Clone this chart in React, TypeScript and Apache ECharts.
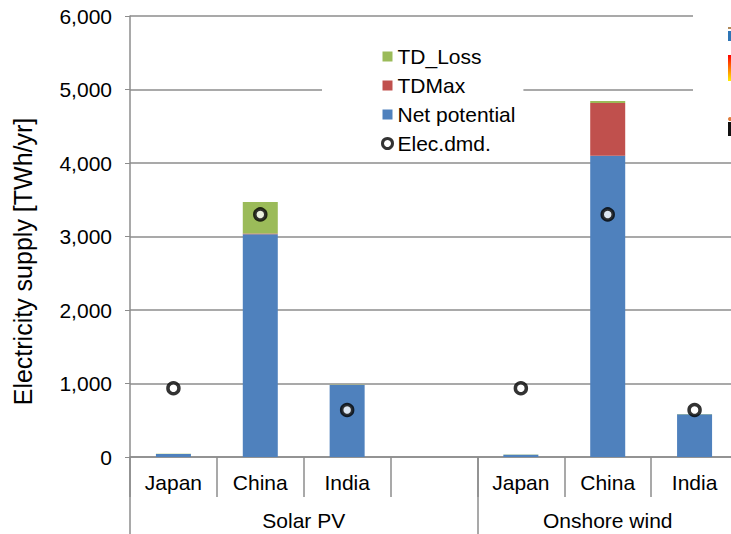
import React, { useEffect, useRef } from "react";
import * as echarts from "echarts";

const categories = ["Japan", "China", "India", "", "Japan", "China", "India"];
const netPotential = [40, 3030, 980, null, 30, 4100, 580];
const tdMax = [0, 10, 0, null, 0, 715, 0];
const tdLoss = [3, 430, 3, null, 3, 30, 5];
const elecDmd = [935, 3300, 640, null, 935, 3300, 640];
const yTicks = [0, 1000, 2000, 3000, 4000, 5000, 6000];
const groups = [
  { name: "Solar PV", center: 2 },
  { name: "Onshore wind", center: 5.5 },
];
const groupBounds = [0, 4, 7];

const FONT = "Liberation Sans, Arial, sans-serif";
const GRID_COLOR = "#8c8c8c";

export default function App() {
  const ref = useRef<HTMLDivElement>(null);

  useEffect(() => {
    document.body.style.margin = "0";
    const chart = echarts.init(ref.current!, undefined, { renderer: "svg" });
    chart.setOption({
      animation: false,
      textStyle: { fontFamily: FONT, color: "#000" },
      grid: { left: 130, top: 16, right: 22, bottom: 77 },
      legend: {
        orient: "vertical",
        left: 322,
        top: 38,
        padding: [8, 8, 5, 59],
        backgroundColor: "#fff",
        itemWidth: 10,
        itemHeight: 10,
        itemGap: 8,
        textStyle: { fontSize: 21, color: "#000", fontFamily: FONT },
        data: [
          { name: "TD_Loss", icon: "rect" },
          { name: "TDMax", icon: "rect" },
          { name: "Net potential", icon: "rect" },
          {
            name: "Elec.dmd.",
            icon: "circle",
            itemStyle: { color: "#fff", borderColor: "#000", borderWidth: 3 },
          },
        ],
      },
      xAxis: [
        {
          type: "category",
          data: categories,
          axisLine: { lineStyle: { color: GRID_COLOR, width: 1.5 } },
          axisTick: {
            show: true,
            interval: 0,
            length: 40,
            lineStyle: { color: GRID_COLOR, width: 1.5 },
          },
          axisLabel: {
            interval: 0,
            fontSize: 21,
            color: "#000",
            margin: 15,
            fontFamily: FONT,
          },
        },
        {
          type: "value",
          position: "bottom",
          min: 0,
          max: 7,
          axisLine: { show: false },
          splitLine: { show: false },
          axisTick: {
            show: true,
            length: 90,
            customValues: groupBounds,
            lineStyle: { color: GRID_COLOR, width: 1.5 },
          },
          axisLabel: {
            fontSize: 21,
            color: "#000",
            margin: 53,
            fontFamily: FONT,
            customValues: groups.map((g) => g.center),
            formatter: (v: number) => groups.find((g) => g.center === v)?.name ?? "",
          },
        },
      ],
      yAxis: {
        type: "value",
        min: 0,
        max: 6000,
        interval: 1000,
        name: "Electricity supply [TWh/yr]",
        nameLocation: "middle",
        nameGap: 95,
        nameTextStyle: {
          fontSize: 25,
          color: "#000",
          fontFamily: FONT,
          padding: [0, 50, 0, 0],
        },
        axisLine: { show: true, lineStyle: { color: GRID_COLOR, width: 1.5 } },
        axisTick: { show: true, length: 5, lineStyle: { color: GRID_COLOR } },
        splitLine: { lineStyle: { color: GRID_COLOR, width: 1.5 } },
        axisLabel: {
          fontSize: 21,
          color: "#000",
          margin: 18,
          fontFamily: FONT,
          customValues: yTicks,
          formatter: (v: number) => v.toLocaleString("en-US"),
        },
      },
      series: [
        {
          name: "Net potential",
          type: "bar",
          stack: "supply",
          barWidth: 35,
          data: netPotential,
          itemStyle: { color: "#4F81BD" },
        },
        {
          name: "TDMax",
          type: "bar",
          stack: "supply",
          barWidth: 35,
          data: tdMax,
          itemStyle: { color: "#C0504D" },
        },
        {
          name: "TD_Loss",
          type: "bar",
          stack: "supply",
          barWidth: 35,
          data: tdLoss,
          itemStyle: { color: "#9BBB59" },
        },
        {
          name: "Elec.dmd.",
          type: "scatter",
          data: elecDmd,
          symbol: "circle",
          symbolSize: 11,
          z: 5,
          itemStyle: { color: "#fff", borderColor: "#000", borderWidth: 3.5 },
        },
      ],
      graphic: [
        {
          type: "rect",
          shape: { x: 693, y: 0, width: 60, height: 152 },
          style: { fill: "#fff" },
          z: 10,
        },
        {
          type: "rect",
          shape: { x: 728, y: 27, width: 4, height: 2 },
          style: { fill: "#b08a5a" },
          z: 11,
        },
        {
          type: "rect",
          shape: { x: 728, y: 31, width: 4, height: 10 },
          style: { fill: "#2e75b6" },
          z: 11,
        },
        {
          type: "rect",
          shape: { x: 728, y: 55, width: 4, height: 26 },
          style: {
            fill: new echarts.graphic.LinearGradient(0, 0, 0, 1, [
              { offset: 0, color: "#ff0000" },
              { offset: 1, color: "#ffee00" },
            ]),
          },
          z: 11,
        },
        {
          type: "circle",
          shape: { cx: 730, cy: 119, r: 2 },
          style: { fill: "#e07b39" },
          z: 11,
        },
        {
          type: "rect",
          shape: { x: 728, y: 122, width: 4, height: 14 },
          style: { fill: "#111" },
          z: 11,
        },
      ],
    });
    return () => chart.dispose();
  }, []);

  return (
    <div
      style={{
        position: "fixed",
        left: 0,
        top: 0,
        width: 731,
        height: 534,
        overflow: "hidden",
        background: "#fff",
      }}
    >
      <div ref={ref} style={{ width: 760, height: 534 }} />
    </div>
  );
}
